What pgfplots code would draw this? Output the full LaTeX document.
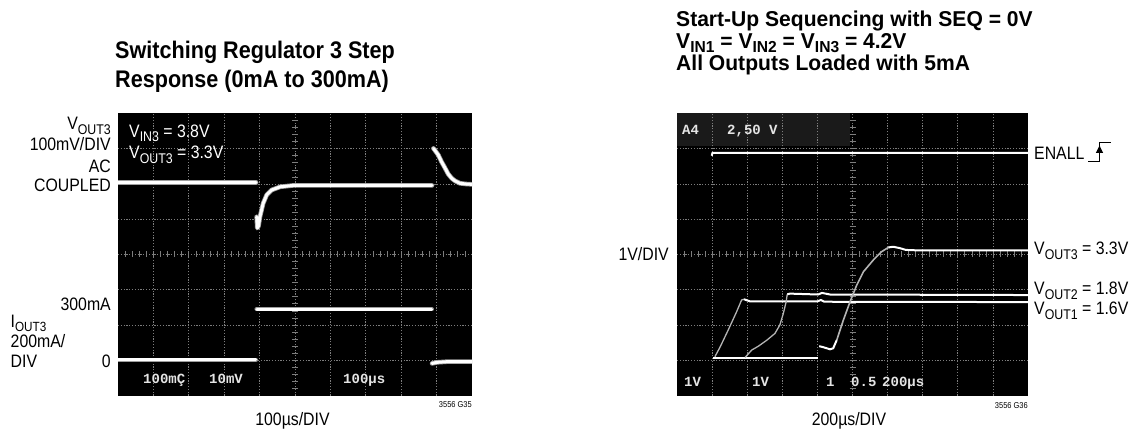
\documentclass[border=0pt]{standalone}
\usepackage{pgfplots}
\pgfplotsset{compat=1.18}
\usepackage{fontspec}
\setmainfont{Liberation Sans}[FakeStretch=0.88]
\newfontfamily\titleL{Liberation Sans}[FakeStretch=0.9]
\newfontfamily\titleR{Liberation Sans}[FakeStretch=0.98]
\newfontfamily\scopefont{Liberation Mono}
\newcommand\sub[1]{\raisebox{-0.25em}{\scalebox{0.78}{#1}}}
\newcommand\tsub[1]{\raisebox{-0.17em}{\scalebox{0.74}{#1}}}
\definecolor{gridc}{RGB}{125,125,125}
\definecolor{hdr}{RGB}{26,26,26}
\definecolor{scopetxt}{RGB}{228,228,228}
\definecolor{faint}{RGB}{180,180,180}
\pgfplotsset{
  scopeaxis/.style={scale only axis, xmin=0, xmax=10, ymin=0, ymax=8,
    xtick={1,...,9}, ytick={1,...,7}, xticklabels={}, yticklabels={},
    major tick length=0pt, xtick style={draw=none}, ytick style={draw=none},
    axis line style={draw=none}, grid=major,
    major grid style={gridc, line width=0.7pt, dash pattern=on 1.2pt off 1.6pt}},
  tr/.style={white, line width=3pt, line join=round, line cap=round,
    preaction={draw=white!62!black, line width=4.6pt}},
  rflat/.style={white, line width=2pt, line join=round},
  rrise/.style={faint, line width=1.3pt, line join=round},
}
\begin{document}
\begin{tikzpicture}[x=1pt,y=-1pt]
\useasboundingbox (0,0) rectangle (1133,430);
% screens
\fill[black] (118,113.5) rectangle (472,395.5);
\fill[black] (677,113.5) rectangle (1028,395.5);
\fill[hdr] (677,113.5) rectangle (850,146);
% centre-line tick marks
\foreach \i in {1,...,49} {\draw[gridc, line width=0.7pt] ({118+\i*7.08},251.5) -- ++(0,6);}
\foreach \i in {1,...,39} {\draw[gridc, line width=0.7pt] (292,{113.5+\i*7.05}) -- ++(6,0);}
\foreach \i in {1,...,49} {\draw[gridc, line width=0.7pt] ({677+\i*7.02},251.5) -- ++(0,6);}
\foreach \i in {1,...,39} {\draw[gridc, line width=0.7pt] (849.5,{113.5+\i*7.05}) -- ++(6,0);}
\coordinate (LA) at (118,395.5);
\coordinate (RA) at (677,395.5);
% ---------------- left screen
\begin{axis}[scopeaxis, at={(LA)}, anchor=south west, width=354pt, height=282pt]
% V_OUT3
\addplot[tr] coordinates {(0,6.04) (3.90,6.04)};
\addplot[tr] coordinates {(3.918,5.07) (3.935,4.75) (3.97,4.81) (4.01,5.07) (4.10,5.45) (4.20,5.69) (4.34,5.83) (4.58,5.92) (4.95,5.96) (8.87,5.96)};
\addplot[tr] coordinates {(8.91,7.01) (8.95,6.96) (9.05,6.82) (9.14,6.63) (9.24,6.45) (9.33,6.28) (9.43,6.16) (9.52,6.09) (9.66,6.02) (9.83,6.0) (10,5.99)};
% I_OUT3
\addplot[tr] coordinates {(0,1.01) (3.89,1.01)};
\addplot[tr] coordinates {(3.92,2.45) (8.86,2.45)};
\addplot[tr] coordinates {(8.87,0.91) (9.0,0.94) (9.3,0.96) (10,0.96)};
\end{axis}
% ---------------- right screen
\begin{axis}[scopeaxis, at={(RA)}, anchor=south west, width=351pt, height=282pt]
% ENALL
\addplot[rflat] coordinates {(0.99,6.80) (1.01,6.885) (10,6.885)};
% ground level
\addplot[rflat] coordinates {(1.03,1.055) (4.03,1.055)};
% V_OUT1
\addplot[rrise] coordinates {(1.08,1.10) (1.23,1.38) (1.46,1.86) (1.70,2.38) (1.84,2.71) (1.91,2.73)};
\addplot[rflat] coordinates {(1.91,2.73) (2.08,2.67) (4.0,2.67) (4.1,2.71) (4.2,2.66) (10,2.65)};
% V_OUT2
\addplot[rrise] coordinates {(1.94,1.08) (2.13,1.29) (2.32,1.40) (2.56,1.57) (2.79,1.76) (2.93,2.0) (3.03,2.33) (3.11,2.66) (3.14,2.87)};
\addplot[rflat] coordinates {(3.14,2.87) (3.22,2.89) (4.02,2.865) (4.13,2.91) (4.36,2.865) (10,2.85)};
% V_OUT3
\addplot[rflat] coordinates {(4.05,1.40) (4.17,1.37) (4.36,1.31) (4.45,1.34) (4.55,1.57)};
\addplot[rrise, line width=1.6pt] coordinates {(4.55,1.57) (4.74,2.14) (4.93,2.66) (5.12,3.13) (5.31,3.51) (5.59,3.84) (5.83,4.08) (6.02,4.20)};
\addplot[rflat] coordinates {(6.02,4.20) (6.16,4.22) (6.35,4.18) (6.52,4.13) (6.78,4.12) (10,4.12)};
\end{axis}
% ---------------- titles
\begin{scope}[every node/.style={anchor=base west, inner sep=0pt}]
\node[font=\titleL\bfseries\fontsize{24}{28}\selectfont] at (115,59) {Switching Regulator 3 Step};
\node[font=\titleL\bfseries\fontsize{24}{28}\selectfont] at (115,87.4) {Response (0mA to 300mA)};
\node[font=\titleR\bfseries\fontsize{21.5}{24}\selectfont] at (676,26.5) {Start-Up Sequencing with SEQ = 0V};
\node[font=\titleR\bfseries\fontsize{21.5}{24}\selectfont] at (676,48.5) {V\tsub{IN1} = V\tsub{IN2} = V\tsub{IN3} = 4.2V};
\node[font=\titleR\bfseries\fontsize{21.5}{24}\selectfont] at (676,70.6) {All Outputs Loaded with 5mA};
\end{scope}
% ---------------- labels
\begin{scope}[every node/.style={inner sep=0pt, font=\fontsize{18}{20}\selectfont}]
\node[anchor=base east] at (111,129.8) {V\sub{OUT3}};
\node[anchor=base east] at (111,150.3) {100mV/DIV};
\node[anchor=base east] at (111,172.3) {AC};
\node[anchor=base east] at (111,191.8) {COUPLED};
\node[anchor=base east] at (111,311) {300mA};
\node[anchor=base east] at (111,367.8) {0};
\node[anchor=base west] at (10.5,328) {I\tsub{OUT3}};
\node[anchor=base west] at (10.5,347.8) {200mA/};
\node[anchor=base west] at (10.5,367.8) {DIV};
\node[anchor=base west, white] at (129,137.3) {V\sub{IN3} = 3.8V};
\node[anchor=base west, white] at (129,158.8) {V\sub{OUT3} = 3.3V};
\node[anchor=base] at (292.5,425.3) {100µs/DIV};
\node[anchor=base] at (849,425.8) {200µs/DIV};
\node[anchor=base east] at (669,260.3) {1V/DIV};
\node[anchor=base west] at (1034,159.6) {ENALL};
\node[anchor=base west] at (1034,255) {V\sub{OUT3} = 3.3V};
\node[anchor=base west] at (1034,294.6) {V\sub{OUT2} = 1.8V};
\node[anchor=base west] at (1034,314.6) {V\sub{OUT1} = 1.6V};
\node[anchor=base east, font=\fontsize{8.5}{10}\selectfont] at (472,407.5) {3556 G35};
\node[anchor=base east, font=\fontsize{8.5}{10}\selectfont] at (1028,408) {3556 G36};
\end{scope}
% ENALL rising-edge symbol
\draw[line width=1.3pt] (1088,161.5) -- (1099.5,161.5) -- (1099.5,142.3) -- (1110.5,142.3);
\fill (1099.5,145.5) -- (1095.8,153) -- (1103.2,153) -- cycle;
% ---------------- scope readouts
\begin{scope}[every node/.style={anchor=base west, inner sep=0pt, scopetxt, font=\scopefont\bfseries\fontsize{14}{16}\selectfont}]
\node at (143,383.5) {100mÇ};
\node at (209,383.5) {10mV};
\node at (343,383.5) {100µs};
\node at (684,386.5) {1V};
\node at (752,386.5) {1V};
\node at (826,386.5) {1};
\node at (851,386.5) {0.5};
\node at (882,386.5) {200µs};
\node at (682,135) {A4};
\node at (727,135) {2,50 V};
\end{scope}
\end{tikzpicture}
\end{document}
